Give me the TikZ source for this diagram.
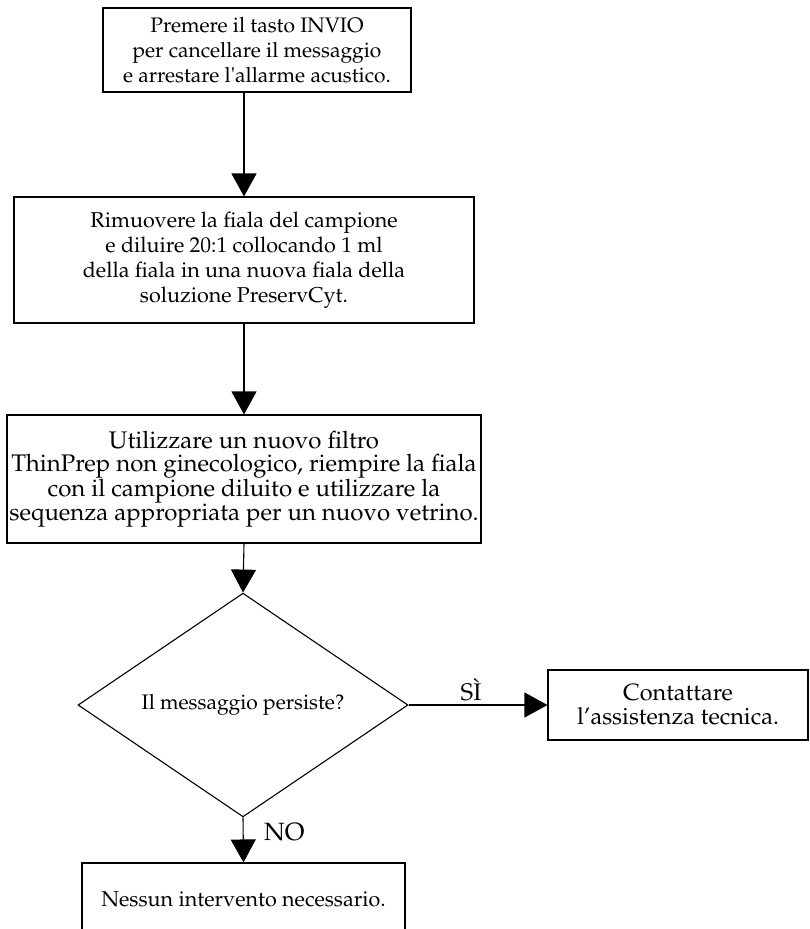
\documentclass[tikz,border=0pt]{standalone}
\usepackage[T1]{fontenc}
\usepackage{mathpazo}
\usetikzlibrary{shapes.geometric,arrows.meta}
\begin{document}
\begin{tikzpicture}[x=1pt,y=-1pt,
    box/.style={draw,line width=1.1pt,align=center,inner sep=0pt},
    choice/.style={draw,line width=1.1pt,shape=diamond,inner sep=0pt,
      minimum width=330pt,minimum height=155pt,align=center},
    flow/.style={line width=1.1pt,-{Triangle[width=25pt,length=23pt]}},
    fs/.style 2 args={font=\fontsize{#1}{#2}\selectfont}]
    \useasboundingbox (0,0) rectangle (810,929);
    \node[box,fs={21}{25},minimum width=308pt,minimum height=84pt] (press) at (257,50)
      {Premere il tasto INVIO\\per cancellare il messaggio\\e arrestare l\textquotesingle allarme acustico.};
    \node[box,fs={21.5}{25},minimum width=460pt,minimum height=126pt] (fiala) at (244,260)
      {Rimuovere la fiala del campione\\e diluire 20:1 collocando 1 ml\\della fiala in una nuova fiala della\\soluzione PreservCyt.};
    \node[box,fs={24}{23.5},minimum width=474pt,minimum height=128pt] (filtro) at (244,479)
      {Utilizzare un nuovo filtro\\ThinPrep non ginecologico, riempire la fiala\\con il campione diluito e utilizzare la\\sequenza appropriata per un nuovo vetrino.};
    \node[choice,fs={21}{25}] (persiste) at (243,705) {Il messaggio persiste?};
    \node[box,fs={23.5}{24},minimum width=260pt,minimum height=70pt] (assist) at (678,705)
      {Contattare\\l'assistenza tecnica.};
    \node[box,fs={21.5}{25},minimum width=323pt,minimum height=72pt] (nessun) at (243.5,899)
      {Nessun intervento necessario.};
    \draw[flow] (press.south -| fiala.north) -- (fiala.north);
    \draw[flow] (fiala.south) -- (filtro.north);
    \draw[flow] (filtro.south) -- (persiste.north);
    \draw[flow] (persiste.east) -- node[above,fs={24}{25},pos=0.45] {S\`I} (assist.west);
    \draw[flow] (persiste.south) -- node[right,fs={25}{25},pos=0.33,xshift=17pt] {NO} (nessun.north);
\end{tikzpicture}
\end{document}
